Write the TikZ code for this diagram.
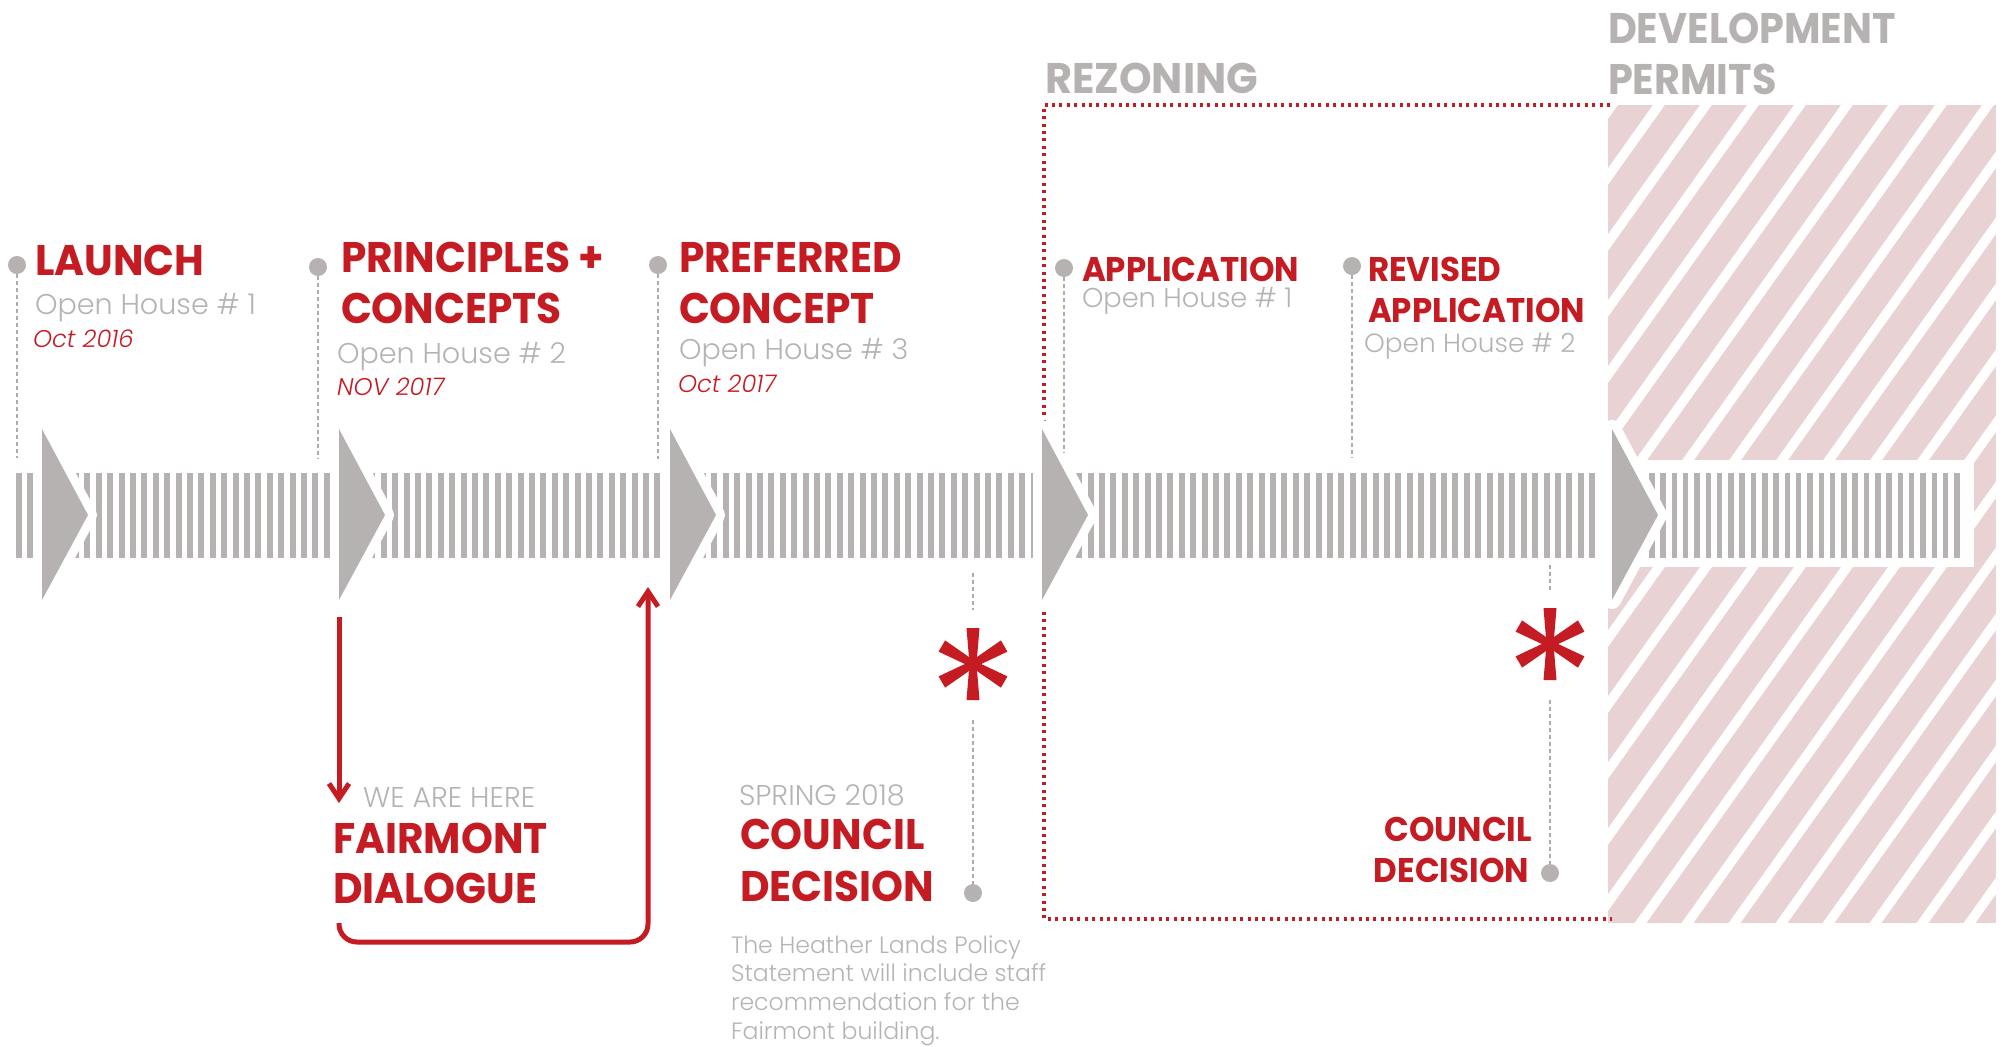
\documentclass[tikz,border=0pt]{standalone}
\usepackage{fontspec}
\setmainfont{Poppins}
\newfontfamily\headfont{Poppins}[FakeStretch=0.95]
\newfontfamily\phasefont{Poppins}[FakeStretch=0.97]
\newfontfamily\permitfont{Poppins}[FakeStretch=0.93]
\newfontfamily\lightfont{Poppins Light}
\usetikzlibrary{arrows.meta}

\definecolor{hlred}{RGB}{197,27,34}
\definecolor{bargray}{RGB}{181,178,177}
\definecolor{txtgray}{RGB}{180,180,180}
\definecolor{hatchpink}{RGB}{232,210,212}
\definecolor{dashgray}{RGB}{172,172,172}

\tikzset{
    lbl/.style={anchor=base west, inner sep=0pt, outer sep=0pt},
    bigtitle/.style={lbl, text=hlred, font=\headfont\bfseries\fontsize{21.4}{21.4}\selectfont},
    smalltitle/.style={lbl, text=hlred, font=\headfont\bfseries\fontsize{17.1}{17.1}\selectfont},
    phasetitle/.style={lbl, text=bargray, font=\phasefont\bfseries\fontsize{21.4}{21.4}\selectfont},
    house/.style={lbl, text=txtgray, font=\lightfont\fontsize{14.3}{14.3}\selectfont},
    when/.style={lbl, text=hlred, font=\lightfont\itshape\fontsize{12.1}{12.1}\selectfont},
    note/.style={lbl, text=txtgray, font=\lightfont\fontsize{11.8}{11.8}\selectfont},
    milestone/.style={circle, fill=bargray, minimum size=9pt, inner sep=0pt},
    guide/.style={dashgray, line width=1pt, dash pattern=on 2pt off 1.5pt},
    zoneline/.style={hlred, line width=2.4pt, dash pattern=on 1.5pt off 2.2pt},
    backarrow/.style={hlred, line width=2.5pt, -{Straight Barb[length=7.5pt,width=10pt]}},
}

\begin{document}
\begin{tikzpicture}[x=0.5pt, y=-0.5pt]
    \useasboundingbox (0,0) rectangle (2007,1046);

    % development permits hatch
    \fill[hatchpink] (1608,105) rectangle (1996,923);
    \begin{scope}
        \clip (1608,105) rectangle (1996,923);
        \foreach \k in {-1,...,22}
            \draw[white, line width=4.8pt] ({1659+47*\k},105) ++(7,-10) -- ++(-712,1000);
    \end{scope}
    \fill[white] (1630,460) rectangle (1974,567);

    % rezoning frame
    \draw[zoneline] (1610,105) -- (1044,105) -- (1044,919) -- (1612,919);

    % striped bar
    \foreach \i in {0,...,138}
        \fill[bargray] ({16+11.4*\i},473) rectangle ++(6,85);
    \foreach \i in {0,...,27}
        \fill[bargray] ({1649+11.3*\i},473) rectangle ++(5.5,85);

    % chevrons
    \foreach \cx in {42,339,670,1042,1612} {
        \draw[white, fill=white, line width=9pt, line join=round] (\cx,429) -- (\cx+46,515) -- (\cx,600) -- cycle;
        \fill[bargray] (\cx,429) -- (\cx+46,515) -- (\cx,600) -- cycle;
    }

    % milestones above the bar
    \node[milestone] (launch) at (17,265) {};
    \node[milestone] (principles) at (318,267) {};
    \node[milestone] (preferred) at (658,265) {};
    \node[milestone] (application) at (1064,268) {};
    \node[milestone] (revised) at (1352,266) {};
    \draw[guide] (launch) -- (17,458);
    \draw[guide] (principles) -- (318,459);
    \draw[guide] (preferred) -- (658,459);
    \draw[guide] (application) -- (1064,453);
    \draw[guide] (revised) -- (1352,458);

    \node[bigtitle] (launch-t) at (35,275) {LAUNCH};
    \node[house] (launch-h) at (35,314) {Open House \# 1};
    \node[when] (launch-d) at (33,347) {Oct 2016};

    \node[bigtitle] (principles-t) at (341,272) {PRINCIPLES +};
    \node[bigtitle] (principles-t2) at (341,323) {CONCEPTS};
    \node[house] (principles-h) at (337,363) {Open House \# 2};
    \node[when] (principles-d) at (337,395) {NOV 2017};

    \node[bigtitle] (preferred-t) at (679,272) {PREFERRED};
    \node[bigtitle] (preferred-t2) at (679,323) {CONCEPT};
    \node[house] (preferred-h) at (679,359) {Open House \# 3};
    \node[when] (preferred-d) at (678,392) {Oct 2017};

    \node[smalltitle] (application-t) at (1082,281) {APPLICATION};
    \node[house, font=\lightfont\fontsize{13.6}{13.6}\selectfont] (application-h) at (1082,307) {Open House \# 1};

    \node[smalltitle] (revised-t) at (1368,281) {REVISED};
    \node[smalltitle] (revised-t2) at (1368,322) {APPLICATION};
    \node[house, font=\lightfont\fontsize{13.2}{13.2}\selectfont] (revised-h) at (1364,352) {Open House \# 2};

    % phases
    \node[phasetitle] (rezoning) at (1045,93) {REZONING};
    \node[phasetitle, font=\permitfont\bfseries\fontsize{21.4}{21.4}\selectfont] (devpermits) at (1608,43) {DEVELOPMENT};
    \node[phasetitle, font=\permitfont\bfseries\fontsize{21.4}{21.4}\selectfont] (devpermits2) at (1608,94) {PERMITS};

    % fairmont dialogue loop
    \coordinate (loop-in) at (339,617);
    \coordinate (loop-here) at (339,803);
    \coordinate (loop-out) at (339,923);
    \coordinate (loop-back) at (648,587);
    \draw[backarrow] (loop-in) -- (loop-here);
    \draw[backarrow, rounded corners=9pt] (loop-out) -- (339,942) -- (648,942) -- (loop-back);
    \node[house, font=\lightfont\fontsize{14.3}{14.3}\selectfont] (wehere) at (363,807) {WE ARE HERE};
    \node[bigtitle] (fairmont) at (333,853) {FAIRMONT};
    \node[bigtitle] (fairmont2) at (333,903) {DIALOGUE};

    % council decisions
    \foreach \ax/\ay in {973/664, 1550/644} {
        \begin{scope}[shift={(\ax,\ay)}]
            \foreach \ang in {90,30,150}
                \fill[hlred, rotate=\ang] (-36,-6.5) -- (0,-3.5) -- (36,-6.5) -- (36,6.5) -- (0,3.5) -- (-36,6.5) -- cycle;
        \end{scope}
    }
    \coordinate (ast1) at (973,664);
    \coordinate (ast2) at (1550,644);
    \node[milestone] (council1) at (973,893) {};
    \node[milestone] (council2) at (1550,873) {};
    \draw[guide] (973,573) -- ([yshift=27pt]ast1);
    \draw[guide] ([yshift=-28pt]ast1) -- (council1);
    \draw[guide] (1550,565) -- ([yshift=27pt]ast2);
    \draw[guide] ([yshift=-28pt]ast2) -- (council2);

    \node[house] (spring) at (739,805) {SPRING 2018};
    \node[bigtitle] (council1-t) at (740,849) {COUNCIL};
    \node[bigtitle] (council1-t2) at (740,901) {DECISION};
    \node[smalltitle, anchor=base east] (council2-t) at (1532,841) {COUNCIL};
    \node[smalltitle, anchor=base east] (council2-t2) at (1529,882) {DECISION};

    \foreach \ln [count=\n] in {The Heather Lands Policy, Statement will include staff, recommendation for the, Fairmont building.}
        \node[note] (note\n) at (731,{953+28.7*(\n-1)}) {\ln};
\end{tikzpicture}
\end{document}
